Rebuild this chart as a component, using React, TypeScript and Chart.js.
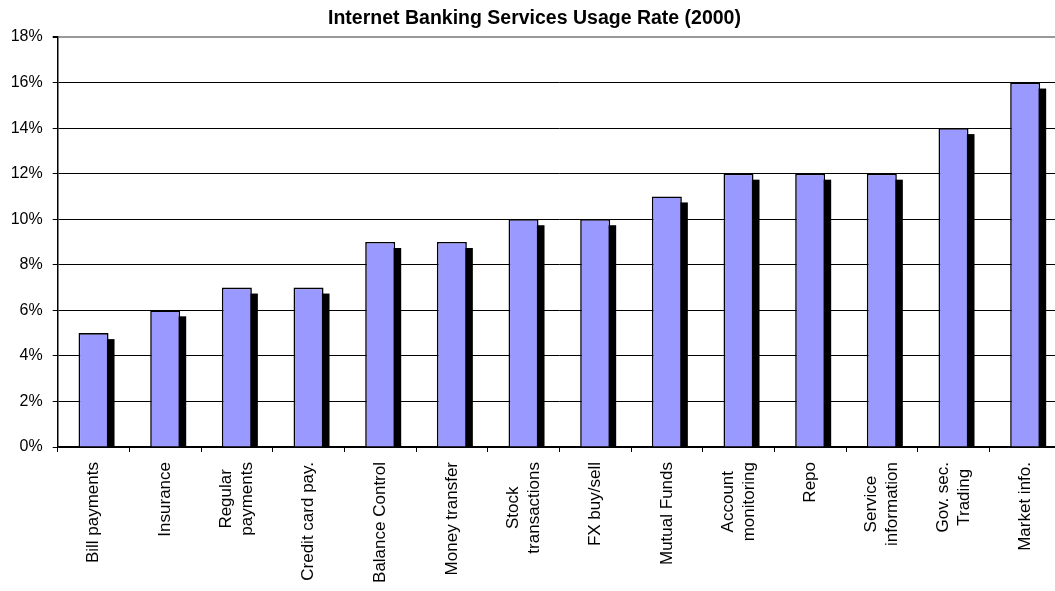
import React, { useEffect, useRef } from "react";
import { Chart, registerables } from "chart.js";

Chart.register(...registerables);

const chartTitle = "Internet Banking Services Usage Rate (2000)";
const categories: string[][] = [
  ["Bill payments"],
  ["Insurance"],
  ["Regular", "payments"],
  ["Credit card pay."],
  ["Balance Control"],
  ["Money transfer"],
  ["Stock", "transactions"],
  ["FX buy/sell"],
  ["Mutual Funds"],
  ["Account", "monitoring"],
  ["Repo"],
  ["Service", "information"],
  ["Gov. sec.", "Trading"],
  ["Market info."],
];
const usageRates = [5, 6, 7, 7, 9, 9, 10, 10, 11, 12, 12, 12, 14, 16];
const yMin = 0;
const yMax = 18;
const yStep = 2;

const FONT = '"Liberation Sans", Arial, Helvetica, sans-serif';

const shadowPlugin = {
  id: "barShadow",
  beforeDatasetsDraw(chart: any) {
    const meta = chart.getDatasetMeta(0);
    const ctx = chart.ctx;
    const off = 6;
    ctx.save();
    ctx.fillStyle = "#000";
    meta.data.forEach((el: any) => {
      const { x, y, base, width } = el.getProps(["x", "y", "base", "width"], true);
      const h = base - y - off;
      if (h > 0) ctx.fillRect(x - width / 2 + off, y + off, width, h);
    });
    ctx.restore();
  },
};

const xLabelPlugin = {
  id: "xLabels",
  afterDraw(chart: any) {
    const xs = chart.scales.x;
    const ctx = chart.ctx;
    ctx.save();
    ctx.font = `17px ${FONT}`;
    ctx.fillStyle = "#000";
    ctx.textAlign = "center";
    ctx.textBaseline = "middle";
    const lineH = 21;
    categories.forEach((lines, i) => {
      const x = xs.getPixelForTick(i);
      const W = Math.max(...lines.map((l) => ctx.measureText(l).width));
      const top = xs.top + 15;
      ctx.save();
      ctx.translate(x, top + W / 2);
      ctx.rotate(-Math.PI / 2);
      lines.forEach((l, j) => {
        ctx.fillText(l, 0, (j - (lines.length - 1) / 2) * lineH);
      });
      ctx.restore();
    });
    ctx.restore();
  },
};

export default function App() {
  const ref = useRef<HTMLCanvasElement | null>(null);

  useEffect(() => {
    if (!ref.current) return;
    document.body.style.overflow = "hidden";
    const chart = new Chart(ref.current, {
      type: "bar",
      data: {
        labels: categories,
        datasets: [
          {
            data: usageRates,
            backgroundColor: "#9999FF",
            borderColor: "#000",
            borderWidth: 1.6,
            categoryPercentage: 1,
            barPercentage: 0.4186,
          },
        ],
      },
      options: {
        responsive: false,
        animation: false,
        devicePixelRatio: 1,
        layout: { padding: { left: 8, right: 8, top: 0, bottom: 0 } },
        plugins: {
          legend: { display: false },
          tooltip: { enabled: false },
          title: {
            display: true,
            text: chartTitle,
            color: "#000",
            font: { family: FONT, size: 19.5, weight: "bold", lineHeight: 1.2 },
            padding: { top: 7.3, bottom: 6.3 },
          },
        },
        scales: {
          x: {
            type: "category",
            offset: true,
            grid: {
              offset: true,
              drawOnChartArea: false,
              drawTicks: true,
              tickLength: 5,
              color: "#000",
              lineWidth: 1,
            },
            border: { display: true, color: "#000", width: 1.5 },
            ticks: { display: false },
            afterFit(scale: any) {
              scale.height = 144;
            },
          },
          y: {
            min: yMin,
            max: yMax,
            ticks: {
              stepSize: yStep,
              color: "#000",
              padding: 10,
              font: { family: FONT, size: 16 },
              callback: (v: any) => `${v}%`,
            },
            grid: {
              color: (c: any) => (c.tick && c.tick.value === yMax ? "#999" : "#000"),
              lineWidth: (c: any) => (c.tick && c.tick.value === yMax ? 2 : 1),
              tickColor: "#000",
              tickLength: 5,
              drawTicks: true,
            },
            border: { display: true, color: "#000", width: 1.5 },
            afterFit(scale: any) {
              scale.width = 49.7;
            },
          },
        },
      },
      plugins: [shadowPlugin, xLabelPlugin],
    });
    return () => chart.destroy();
  }, []);

  return (
    <div
      style={{
        position: "fixed",
        left: 0,
        top: 0,
        width: 1055,
        height: 591,
        overflow: "hidden",
        background: "#fff",
      }}
    >
      <canvas ref={ref} width={1069} height={591} style={{ width: 1069, height: 591, display: "block" }} />
    </div>
  );
}
